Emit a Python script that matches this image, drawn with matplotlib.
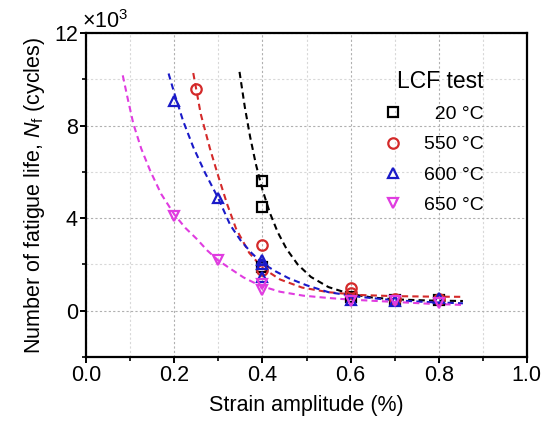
import matplotlib
matplotlib.use("Agg")
import matplotlib.pyplot as plt
from matplotlib.ticker import MultipleLocator

plt.rcParams["font.family"] = ["Liberation Sans", "DejaVu Sans"]
plt.rcParams["mathtext.fontset"] = "custom"
plt.rcParams["mathtext.rm"] = "Liberation Sans"
plt.rcParams["mathtext.it"] = "Liberation Sans:italic"

# Measured points (strain amplitude %, fatigue life in 10^3 cycles)
x_20 = [0.4, 0.4, 0.4, 0.6, 0.7, 0.8]
y_20 = [5.6, 4.5, 1.9, 0.6, 0.45, 0.45]
x_550 = [0.25, 0.4, 0.4, 0.6, 0.6, 0.7, 0.8]
y_550 = [9.6, 2.85, 1.75, 1.0, 0.75, 0.5, 0.5]
x_600 = [0.2, 0.3, 0.4, 0.4, 0.4, 0.6, 0.7, 0.8]
y_600 = [9.05, 4.85, 2.2, 2.0, 1.45, 0.45, 0.4, 0.55]
x_650 = [0.2, 0.3, 0.4, 0.4, 0.6, 0.7, 0.8]
y_650 = [4.1, 2.2, 1.15, 0.9, 0.4, 0.4, 0.35]

# Fitted curves
fx_20 = [0.348, 0.36, 0.372, 0.385, 0.4, 0.417, 0.435, 0.455, 0.48, 0.51,
         0.55, 0.6, 0.65, 0.7, 0.78, 0.855]
fy_20 = [10.32, 8.8, 7.52, 6.34, 5.23, 4.22, 3.38, 2.66, 2.0, 1.46,
         1.02, 0.72, 0.57, 0.49, 0.44, 0.42]
fx_550 = [0.243, 0.26, 0.281, 0.3, 0.32, 0.34, 0.37, 0.4, 0.44, 0.49,
          0.55, 0.62, 0.7, 0.78, 0.855]
fy_550 = [10.27, 8.5, 7.0, 5.8, 4.6, 3.55, 2.5, 1.85, 1.35, 1.0,
          0.8, 0.68, 0.63, 0.61, 0.6]
fx_600 = [0.187, 0.2, 0.22, 0.243, 0.27, 0.3, 0.327, 0.35, 0.375, 0.4,
          0.43, 0.46, 0.5, 0.55, 0.62, 0.7, 0.78, 0.855]
fy_600 = [10.25, 9.4, 8.2, 7.07, 5.95, 4.85, 3.7, 3.05, 2.5, 2.05,
          1.7, 1.4, 1.1, 0.8, 0.6, 0.45, 0.37, 0.32]
fx_650 = [0.083, 0.095, 0.107, 0.125, 0.145, 0.17, 0.2, 0.225, 0.251, 0.275,
          0.3, 0.33, 0.357, 0.38, 0.402, 0.44, 0.493, 0.55, 0.6, 0.7, 0.78, 0.855]
fy_650 = [10.17, 9.1, 8.08, 7.0, 6.06, 5.05, 4.16, 3.58, 3.1, 2.6,
          2.17, 1.78, 1.44, 1.22, 1.04, 0.82, 0.65, 0.55, 0.48, 0.38, 0.3, 0.25]

labels = ["  20 °C", "550 °C", "600 °C", "650 °C"]
colors = ["black", "#d42a2a", "#1a1ac8", "#e03ce0"]
markers = ["s", "o", "^", "v"]

fig = plt.figure(figsize=(5.42, 4.23), dpi=100)
ax = fig.add_axes([0.159, 0.156, 0.813, 0.766])

series = [
    (x_20, y_20, fx_20, fy_20),
    (x_550, y_550, fx_550, fy_550),
    (x_600, y_600, fx_600, fy_600),
    (x_650, y_650, fx_650, fy_650),
]
for (xs, ys, fx, fy), lab, c, m in zip(series, labels, colors, markers):
    ax.plot(fx, fy, linestyle=(0, (3, 2)), color=c, linewidth=1.5, zorder=2)
    ax.plot(xs, ys, linestyle="none", marker=m, markersize=7.5,
            markerfacecolor="none", markeredgecolor=c, markeredgewidth=1.6,
            label=lab, zorder=3)

ax.set_xlim(0, 1.0)
ax.set_ylim(-2, 12)
ax.xaxis.set_major_locator(MultipleLocator(0.2))
ax.xaxis.set_minor_locator(MultipleLocator(0.1))
ax.yaxis.set_major_locator(MultipleLocator(4))
ax.yaxis.set_minor_locator(MultipleLocator(2))
ax.set_xticks([0.0, 0.2, 0.4, 0.6, 0.8, 1.0])
ax.set_xticklabels(["0.0", "0.2", "0.4", "0.6", "0.8", "1.0"])
ax.set_yticks([0, 4, 8, 12])
ax.set_yticklabels(["0", "4", "8", "12"])

ax.grid(which="major", linestyle=(0, (2, 2)), color="#b0b0b0", linewidth=0.8)
ax.grid(which="minor", linestyle=(0, (2, 2)), color="#d8d8d8", linewidth=0.8)
ax.set_axisbelow(True)

for s in ax.spines.values():
    s.set_linewidth(1.6)
ax.tick_params(which="major", direction="out", length=4, width=1.4,
               labelsize=15.5, pad=2)
ax.tick_params(which="minor", direction="out", length=3, width=1.2)

ax.set_xlabel("Strain amplitude (%)", fontsize=15.5, labelpad=6)
ax.set_ylabel("Number of fatigue life, $N_\\mathrm{f}$ (cycles)",
              fontsize=15.5, labelpad=5)
ax.text(-0.01, 1.0, "×10$^3$", transform=ax.transAxes, fontsize=15.5,
        ha="left", va="bottom")

leg = ax.legend(loc="upper right", bbox_to_anchor=(0.942, 0.94), frameon=False,
                title="LCF test", fontsize=14, title_fontsize=16.5,
                alignment="right", handletextpad=0.6, labelspacing=0.65)

fig.savefig("out.png", dpi=100)
